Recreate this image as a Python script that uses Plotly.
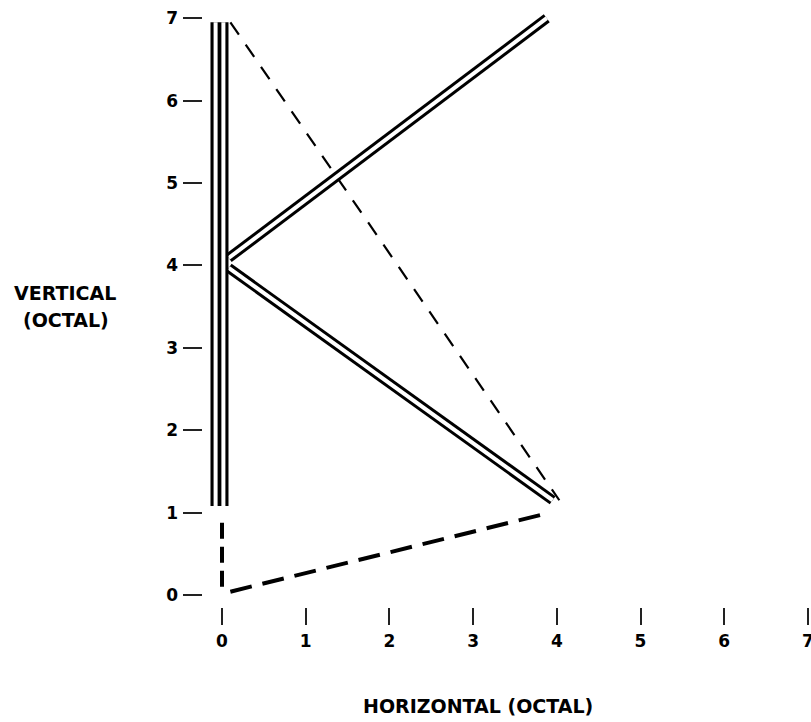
import plotly.graph_objects as go

# ---- data (octal screen coordinates) ----
tick_values = [0, 1, 2, 3, 4, 5, 6, 7]
tick_labels = ["0", "1", "2", "3", "4", "5", "6", "7"]

# solid (drawn) strokes of the letter K
vertical_stroke_x = [-0.03, -0.03]
vertical_stroke_y = [1.08, 6.95]
upper_arm_x = [0.08, 3.88]
upper_arm_y = [4.09, 7.00]
lower_arm_x = [0.08, 3.95]
lower_arm_y = [3.97, 1.15]

# dashed (beam-off) moves
move_up_x = [0.0, 0.0]
move_up_y = [0.10, 0.93]
move_base_x = [0.10, 3.88]
move_base_y = [0.04, 0.99]
move_diag_x = [0.10, 4.03]
move_diag_y = [6.95, 1.15]

# ---- layout constants ----
W, H = 811, 722
ML, MR, MT, MB = 183, 0, 0, 97
PX_PER_X = 83.7
PX_PER_Y = 82.4
XR = [-0.466, -0.466 + (W - ML - MR) / PX_PER_X]
YR = [-0.364, -0.364 + (H - MT - MB) / PX_PER_Y]
FONT = "DejaVu Sans"


def paper_x(sx):
    return (sx - ML) / (W - ML - MR)


def paper_y(sy):
    return (H - MB - sy) / (H - MT - MB)


fig = go.Figure()


def line(x, y, color, width, dash="solid"):
    fig.add_trace(go.Scatter(x=x, y=y, mode="lines",
                             line=dict(color=color, width=width, dash=dash),
                             hoverinfo="skip", showlegend=False))


# dashed moves
line(move_up_x, move_up_y, "black", 4, "16px,8px")
line(move_base_x, move_base_y, "black", 4, "22px,11px")
line(move_diag_x, move_diag_y, "black", 2.2, "15px,12px")

# arms as double lines
for ax, ay in [(upper_arm_x, upper_arm_y), (lower_arm_x, lower_arm_y)]:
    line(ax, ay, "black", 10)
    line(ax, ay, "white", 4)

# vertical stroke as triple line
line(vertical_stroke_x, vertical_stroke_y, "black", 18)
off = 3.9 / PX_PER_X
for s in (-1, 1):
    line([v + s * off for v in vertical_stroke_x], vertical_stroke_y, "white", 4)

axis_common = dict(showline=False, showgrid=False, zeroline=False,
                   ticks="inside", tickwidth=2, tickcolor="#222",
                   tickvals=tick_values, ticktext=tick_labels,
                   tickfont=dict(family=FONT, size=17, color="black", weight="bold"),
                   ticklabeloverflow="allow",
                   fixedrange=True)

title_font = dict(family=FONT, size=19, color="black", weight="bold")

fig.update_layout(
    width=W, height=H,
    margin=dict(l=ML, r=MR, t=MT, b=MB, autoexpand=False),
    paper_bgcolor="white", plot_bgcolor="white",
    hovermode=False,
    xaxis=dict(range=XR, ticklen=17, ticklabelstandoff=4, **axis_common),
    yaxis=dict(range=YR, ticklen=19, ticklabelstandoff=4, **axis_common),
    annotations=[
        dict(text="VERTICAL", xref="paper", yref="paper",
             x=paper_x(65), y=paper_y(293), showarrow=False,
             xanchor="center", yanchor="middle", font=title_font),
        dict(text="(OCTAL)", xref="paper", yref="paper",
             x=paper_x(66), y=paper_y(320), showarrow=False,
             xanchor="center", yanchor="middle", font=title_font),
        dict(text="HORIZONTAL (OCTAL)", xref="paper", yref="paper",
             x=paper_x(478), y=paper_y(706), showarrow=False,
             xanchor="center", yanchor="middle", font=title_font),
    ],
)

fig.write_html(
    "out.html",
    config={"displayModeBar": False, "staticPlot": True},
    post_script="document.body.style.margin='0';document.body.style.overflow='hidden';",
)
